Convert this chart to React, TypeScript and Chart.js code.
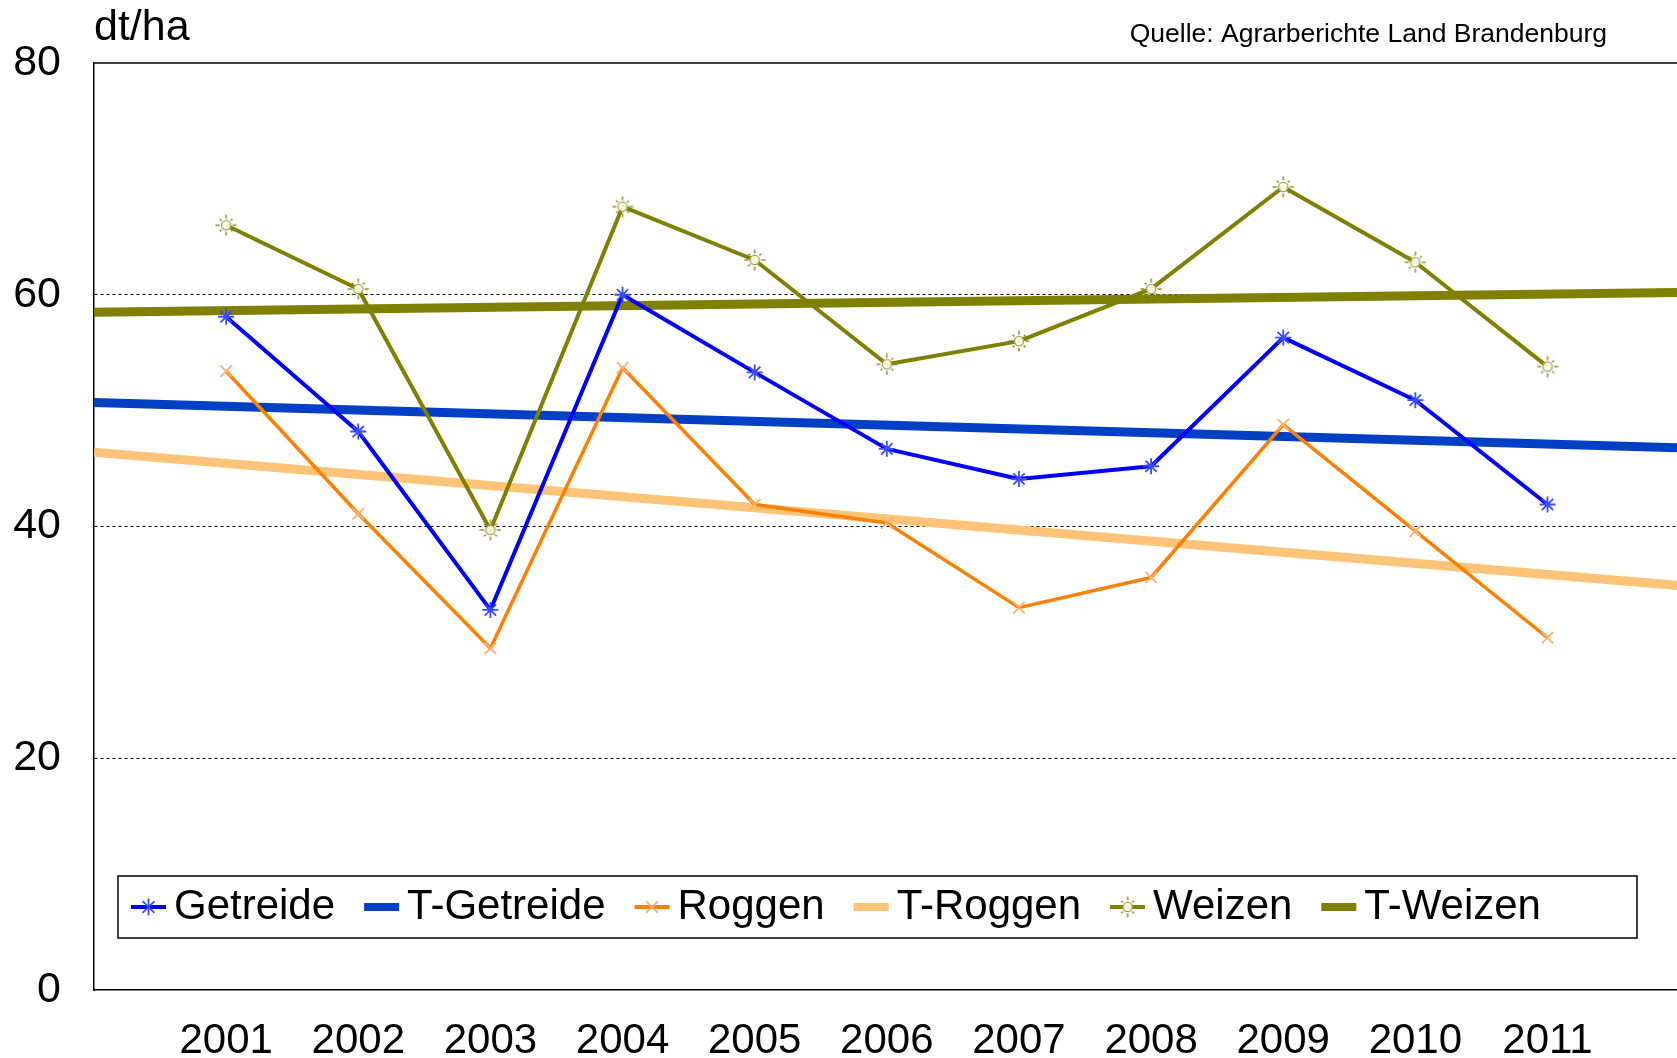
import React, { useEffect, useRef } from 'react';
import { Chart, registerables } from 'chart.js';

Chart.register(...registerables);

// ---------- data ----------
const years = [2001, 2002, 2003, 2004, 2005, 2006, 2007, 2008, 2009, 2010, 2011];
const getreide = [58.1, 48.2, 32.8, 60.0, 53.3, 46.7, 44.1, 45.2, 56.3, 50.9, 41.9];
const roggen = [53.4, 41.1, 29.5, 53.7, 41.9, 40.3, 33.0, 35.6, 48.8, 39.6, 30.4];
const weizen = [66.0, 60.5, 39.7, 67.6, 63.0, 54.0, 56.0, 60.5, 69.3, 62.8, 53.8];
const trendYears = [2000, 2012];
const tGetreide = [50.7, 46.8];
const tRoggen = [46.4, 34.9];
const tWeizen = [58.5, 60.2];
const yTicks = [0, 20, 40, 60, 80];
const seriesNames = ['Getreide', 'T-Getreide', 'Roggen', 'T-Roggen', 'Weizen', 'T-Weizen'];
const unitLabel = 'dt/ha';
const sourceLabel = 'Quelle: Agrarberichte Land Brandenburg';

const FONT = '"Liberation Sans", Arial, Helvetica, sans-serif';

function makeSun(): HTMLCanvasElement {
  const c = document.createElement('canvas');
  c.width = 22;
  c.height = 22;
  const g = c.getContext('2d')!;
  g.lineWidth = 1.4;
  g.strokeStyle = '#a4a450';
  g.fillStyle = 'rgba(255,255,240,0.9)';
  g.beginPath();
  g.arc(11, 11, 4.6, 0, Math.PI * 2);
  g.fill();
  g.stroke();
  g.strokeStyle = '#86861c';
  for (let i = 0; i < 8; i++) {
    const a = (i * Math.PI) / 4;
    const r2 = i % 2 === 0 ? 10.5 : 9;
    g.beginPath();
    g.moveTo(11 + Math.cos(a) * 6.5, 11 + Math.sin(a) * 6.5);
    g.lineTo(11 + Math.cos(a) * r2, 11 + Math.sin(a) * r2);
    g.stroke();
  }
  return c;
}

const toXY = (xs: number[], ys: number[]) => xs.map((x, i) => ({ x, y: ys[i] }));

export default function App() {
  const ref = useRef<HTMLCanvasElement | null>(null);

  useEffect(() => {
    if (!ref.current) return;
    const sun = makeSun();

    const framePlugin = {
      id: 'frame',
      beforeDatasetsDraw(chart: any) {
        const { ctx, chartArea: a } = chart;
        ctx.save();
        ctx.strokeStyle = '#000';
        ctx.lineWidth = 1.5;
        ctx.beginPath();
        ctx.moveTo(a.left, a.top);
        ctx.lineTo(a.right, a.top);
        ctx.stroke();
        ctx.restore();
      },
      afterDraw(chart: any) {
        const { ctx, chartArea: a } = chart;
        ctx.save();
        ctx.fillStyle = '#000';
        ctx.textBaseline = 'middle';
        ctx.textAlign = 'left';
        ctx.font = `43px ${FONT}`;
        ctx.fillText(unitLabel, a.left, 28);
        ctx.font = `26.5px ${FONT}`;
        ctx.textAlign = 'right';
        ctx.fillText(sourceLabel, 1607, 35);
        ctx.restore();
      },
    };

    const legendPlugin = {
      id: 'insideLegend',
      afterDatasetsDraw(chart: any) {
        const { ctx, chartArea: a } = chart;
        const bx = a.left + 24;
        const by = a.bottom - 114;
        const bw = 1519;
        const bh = 62;
        ctx.save();
        ctx.fillStyle = '#fff';
        ctx.fillRect(bx, by, bw, bh);
        ctx.strokeStyle = '#000';
        ctx.lineWidth = 1.5;
        ctx.strokeRect(bx, by, bw, bh);
        const cy = by + bh / 2;
        let x = bx + 13;
        ctx.font = `42px ${FONT}`;
        ctx.textBaseline = 'middle';
        ctx.textAlign = 'left';
        chart.data.datasets.forEach((ds: any) => {
          const isTrend = ds.pointRadius === 0;
          ctx.strokeStyle = ds.borderColor;
          ctx.lineWidth = isTrend ? 8 : 4;
          ctx.lineCap = 'butt';
          ctx.beginPath();
          ctx.moveTo(x, cy);
          ctx.lineTo(x + 35, cy);
          ctx.stroke();
          const mx = x + 17.5;
          if (!isTrend) {
            ctx.strokeStyle = ds.pointBorderColor;
            ctx.lineWidth = 1.8;
            const r = 8.5;
            if (ds.pointStyle === 'star') {
              ctx.beginPath();
              ctx.moveTo(mx, cy - r); ctx.lineTo(mx, cy + r);
              const d = r * 0.7;
              ctx.moveTo(mx - d, cy - d); ctx.lineTo(mx + d, cy + d);
              ctx.moveTo(mx - d, cy + d); ctx.lineTo(mx + d, cy - d);
              ctx.stroke();
            } else if (ds.pointStyle === 'crossRot') {
              const d = r * 0.7;
              ctx.beginPath();
              ctx.moveTo(mx - d, cy - d); ctx.lineTo(mx + d, cy + d);
              ctx.moveTo(mx - d, cy + d); ctx.lineTo(mx + d, cy - d);
              ctx.stroke();
            } else {
              ctx.drawImage(sun, mx - 11, cy - 11);
            }
          }
          x += 35 + 8;
          ctx.fillStyle = '#000';
          ctx.fillText(ds.label, x, cy);
          x += ctx.measureText(ds.label).width + 29;
        });
        ctx.restore();
      },
    };

    const chart = new Chart(ref.current, {
      type: 'line',
      data: {
        datasets: [
          {
            label: seriesNames[0],
            data: toXY(years, getreide),
            borderColor: '#0000ff',
            borderWidth: 4,
            pointStyle: 'star',
            pointRadius: 8,
            pointBorderColor: '#3a4cff',
            pointBorderWidth: 1.8,
            pointBackgroundColor: '#3a4cff',
            borderJoinStyle: 'round',
            tension: 0,
            order: 1,
          },
          {
            label: seriesNames[1],
            data: toXY(trendYears, tGetreide),
            borderColor: '#0040c4',
            borderWidth: 9,
            pointRadius: 0,
            tension: 0,
            order: 4,
          },
          {
            label: seriesNames[2],
            data: toXY(years, roggen),
            borderColor: '#ff8000',
            borderWidth: 3.5,
            pointStyle: 'crossRot',
            pointRadius: 8,
            pointBorderColor: '#ffb070',
            pointBorderWidth: 1.8,
            borderJoinStyle: 'round',
            tension: 0,
            order: 2,
          },
          {
            label: seriesNames[3],
            data: toXY(trendYears, tRoggen),
            borderColor: '#ffc478',
            borderWidth: 9,
            pointRadius: 0,
            tension: 0,
            order: 5,
          },
          {
            label: seriesNames[4],
            data: toXY(years, weizen),
            borderColor: '#808000',
            borderWidth: 4,
            pointStyle: sun,
            pointRadius: 9,
            pointBorderColor: '#a4a450',
            borderJoinStyle: 'round',
            tension: 0,
            order: 3,
          },
          {
            label: seriesNames[5],
            data: toXY(trendYears, tWeizen),
            borderColor: '#808000',
            borderWidth: 9,
            pointRadius: 0,
            tension: 0,
            order: 6,
          },
        ] as any,
      },
      options: {
        animation: false,
        responsive: false,
        devicePixelRatio: 1,
        layout: { autoPadding: false, padding: { top: 63, right: 0, left: 0, bottom: 0 } },
        plugins: {
          legend: { display: false },
          tooltip: { enabled: false },
          title: { display: false },
        },
        scales: {
          x: {
            type: 'linear',
            min: 2000,
            max: 2011.98,
            afterBuildTicks: (s: any) => {
              s.ticks = years.map((v) => ({ value: v }));
            },
            afterFit: (s: any) => {
              s.height = 68;
              s.paddingLeft = 0;
              s.paddingRight = 0;
            },
            ticks: {
              font: { size: 42, family: FONT },
              color: '#000',
              padding: 26,
              autoSkip: false,
              maxRotation: 0,
              callback: (v: any) => String(v),
            },
            grid: { display: false, drawTicks: false },
            border: { display: true, color: '#000', width: 1.5 },
          },
          y: {
            min: 0,
            max: 80,
            afterBuildTicks: (s: any) => {
              s.ticks = yTicks.map((v) => ({ value: v }));
            },
            afterFit: (s: any) => {
              s.width = 94;
            },
            ticks: {
              font: { size: 43, family: FONT },
              color: '#000',
              padding: 33,
              callback: (v: any) => String(v),
            },
            grid: {
              drawTicks: false,
              lineWidth: 1,
              color: (c: any) =>
                c.tick && c.tick.value > 0 && c.tick.value < 80 ? '#000' : 'rgba(0,0,0,0)',
            },
            border: { display: true, color: '#000', width: 1.5, dash: [3, 3] },
          },
        },
      } as any,
      plugins: [framePlugin, legendPlugin],
    });

    return () => chart.destroy();
  }, []);

  return (
    <div
      style={{
        position: 'fixed',
        left: 0,
        top: 0,
        width: 1677,
        height: 1058,
        background: '#fff',
      }}
    >
      <canvas ref={ref} width={1677} height={1058} style={{ display: 'block' }} />
    </div>
  );
}
